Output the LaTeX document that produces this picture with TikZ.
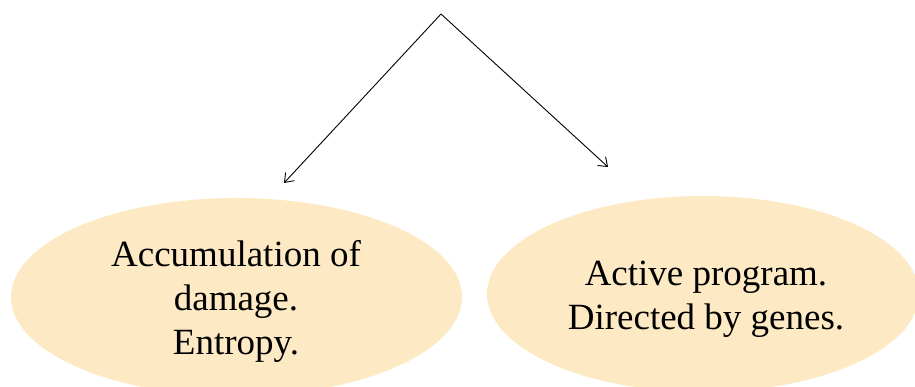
\documentclass[tikz,border=0pt]{standalone}
\usepackage{fontspec}
\setmainfont{Liberation Serif}
\usetikzlibrary{shapes.geometric,arrows.meta}
\definecolor{peach}{RGB}{253,234,196}
\tikzset{
	bubble/.style={ellipse,fill=peach,inner sep=0pt},
	label text/.style={align=center,font=\fontsize{37}{44}\selectfont},
	link/.style={-{Straight Barb[length=8pt,width=12pt]},line width=0.9pt}
}
\begin{document}
\begin{tikzpicture}[x=1pt,y=-1pt]
				\useasboundingbox (0,0) rectangle (915,387);
				\node[bubble,minimum width=451pt,minimum height=198pt,anchor=center] (damage) at (236.5,297) {};
				\node[bubble,minimum width=432pt,minimum height=196pt,anchor=center] (program) at (703,294) {};
				\node[label text,anchor=center] (damagetext) at (236,301)
					{Accumulation of\\damage.\\Entropy.};
				\node[label text,anchor=center] (programtext) at (706,299)
					{Active program.\\Directed by genes.};
				\coordinate (top) at (441,14);
				\coordinate (leftend) at (284,183);
				\coordinate (rightend) at (608,167);
				\draw[link] (top) -- (leftend);
				\draw[link] (top) -- (rightend);
			\end{tikzpicture}
\end{document}
